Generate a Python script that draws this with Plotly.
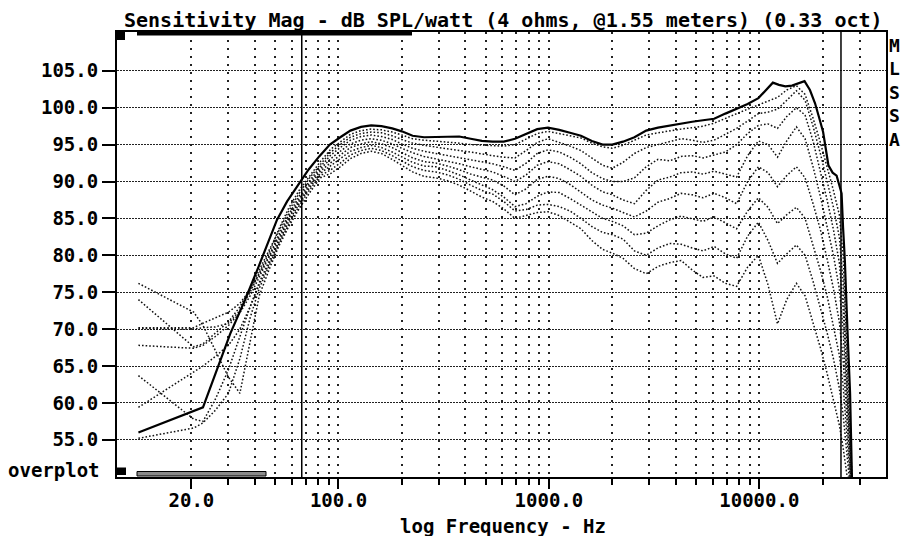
import math
import plotly.graph_objects as go

# ---------------- data ----------------
TITLE = "Sensitivity Mag - dB SPL/watt (4 ohms, @1.55 meters) (0.33 oct)"
X_TITLE = "log Frequency - Hz"
SIDE_LABEL = ["M", "L", "S", "S", "A"]
CORNER_LABEL = "overplot"

# on-axis response (solid)
FREQ_ON = [11.2, 22.7, 30.6, 36, 41.5, 46, 51, 57, 64, 72, 81, 91, 102, 114, 128, 143,
           160, 180, 200, 225, 255, 290, 330, 375, 425, 480, 540, 610, 690, 780, 880,
           990, 1120, 1260, 1420, 1600, 1800, 2000, 2250, 2550, 2900, 3300, 3750, 4250,
           4800, 5400, 6100, 6900, 7800, 8800, 9900, 10700, 11600, 12400, 13300, 14300,
           15300, 16400, 17400, 18400, 19400, 20100, 21300, 22300, 23300, 24600, 25000,
           25500, 26200, 27000, 27600]
SPL_ON = [56.0, 59.4, 69.4, 74.0, 78.3, 81.5, 84.8, 87.3, 89.5, 91.6, 93.4, 95.0, 96.0,
          96.9, 97.4, 97.6, 97.5, 97.2, 96.8, 96.2, 96.0, 96.0, 96.0, 96.1, 95.8, 95.5,
          95.4, 95.4, 95.8, 96.5, 97.1, 97.3, 97.0, 96.6, 96.2, 95.5, 95.0, 95.0, 95.4,
          96.0, 96.9, 97.3, 97.6, 97.9, 98.1, 98.3, 98.5, 99.2, 99.9, 100.5, 101.3, 102.4,
          103.4, 103.1, 102.9, 103.0, 103.3, 103.6, 102.4, 100.6, 98.3, 96.7, 92.2, 91.2,
          90.8, 88.4, 83.8, 79.3, 70.3, 61.3, 49.0]

# off-axis responses (dotted)
FREQ_OFF = [11.2, 20.5, 22.7, 26, 30, 34, 38, 42, 47, 52, 58, 65, 73, 82, 92, 102, 114,
            128, 143, 160, 180, 200, 225, 255, 290, 330, 375, 425, 480, 540, 610, 690,
            780, 880, 990, 1120, 1260, 1420, 1600, 1800, 2000, 2250, 2550, 2900, 3300,
            3750, 4250, 4800, 5400, 6100, 6900, 7800, 8800, 9900, 11000, 12200, 13500,
            15000, 16500, 18000, 19500, 21000, 22500, 24000, 25000, 26000, 27000, 28000]

SPL_OFF_1 = [70.1, 70.0, 70.2, 70.3, 70.8, 72.5, 75.0, 77.6, 80.5, 83.5, 86.4, 88.8, 90.8, 92.7,
             94.4, 95.4, 96.4, 96.9, 97.1, 97.0, 96.7, 96.3, 95.8, 95.6, 95.5, 95.4, 95.2, 95.0,
             94.9, 94.9, 94.8, 95.0, 95.8, 96.5, 96.8, 96.5, 96.2, 95.9, 95.2, 94.7, 94.5, 94.9,
             95.6, 96.3, 96.6, 96.9, 97.1, 97.3, 97.5, 97.9, 98.5, 99.2, 99.8, 100.4, 100.9,
             101.4, 102.4, 103.0,
             101.8, 98.6, 95.3, 92.0, 88.8, 85.5, 80.0, 68.0, 56.0, 45.0]
SPL_OFF_2 = [74.0, 67.6, 68.0, 69.5, 71.0, 73.0, 75.5, 78.0, 80.8, 83.4, 86.0, 88.4, 90.5, 92.3,
             94.0, 95.0, 96.0, 96.5, 96.7, 96.6, 96.2, 95.7, 95.2, 94.9, 94.7, 94.5, 94.2, 94.0,
             93.7, 93.5, 93.3, 93.2, 94.2, 95.3, 95.8, 95.3, 94.8, 94.2, 93.2, 92.2, 91.8, 92.6,
             93.8, 94.6, 95.0, 95.4, 95.8, 95.6, 95.3, 95.6, 96.4, 97.2, 98.2, 99.2, 99.4,
             99.8, 101.0, 102.3,
             101.0, 97.5, 93.8, 90.0, 86.5, 82.5, 76.5, 65.0, 54.0, 44.0]
SPL_OFF_3 = [70.2, 70.2, 70.8, 71.5, 72.3, 73.5, 75.3, 77.4, 80.0, 82.8, 85.5, 88.0, 90.1, 92.0,
             93.6, 94.6, 95.6, 96.1, 96.3, 96.1, 95.7, 95.1, 94.5, 94.1, 93.8, 93.6, 93.3, 93.0,
             92.7, 92.4, 92.0, 91.5, 92.5, 93.8, 94.3, 94.0, 93.3, 92.4, 91.2, 90.4, 90.0, 90.0,
             90.5, 92.0, 93.0, 92.8, 93.4, 93.5, 93.2, 93.6, 94.0, 95.0, 96.5, 97.6, 97.8,
             97.2, 98.8, 100.0,
             99.0, 95.5, 91.5, 87.5, 83.5, 79.0, 73.0, 63.0, 52.5, 44.0]
SPL_OFF_4 = [67.8, 67.4, 67.8, 69.0, 70.5, 72.2, 74.5, 77.0, 79.8, 82.5, 85.2, 87.6, 89.8, 91.7,
             93.1, 94.1, 95.1, 95.6, 95.8, 95.6, 95.1, 94.5, 93.9, 93.4, 93.1, 92.8, 92.4, 92.0,
             91.6, 91.3, 90.7, 90.0, 90.9, 92.2, 92.7, 92.4, 91.6, 90.7, 89.5, 88.6, 88.2, 87.5,
             87.0, 88.8, 90.2, 90.6, 91.2, 91.3, 91.0, 91.4, 91.0, 90.6, 93.5, 95.5, 95.0,
             93.3, 95.5, 97.4,
             95.8, 92.0, 88.0, 84.0, 80.0, 75.5, 70.0, 61.0, 51.5, 44.0]
SPL_OFF_5 = [59.4, 64.2, 65.0, 66.3, 67.8, 70.0, 73.0, 76.3, 79.3, 82.2, 85.0, 87.3, 89.5, 91.4,
             92.6, 93.6, 94.6, 95.1, 95.4, 95.1, 94.6, 93.9, 93.2, 92.7, 92.5, 92.1, 91.6, 91.0,
             90.6, 90.2, 89.4, 88.2, 89.0, 90.3, 90.7, 90.4, 89.6, 88.5, 87.5, 86.8, 86.4, 85.8,
             85.2, 86.0, 87.2, 87.7, 88.4, 88.2, 87.8, 88.4, 87.8, 87.0, 90.0, 92.0, 91.2,
             89.3, 90.8, 92.0,
             90.5, 87.0, 83.5, 79.5, 75.5, 71.0, 66.0, 58.5, 50.0, 44.0]
SPL_OFF_6 = [63.7, 57.8, 57.5, 60.5, 64.5, 69.0, 73.0, 76.0, 79.0, 81.8, 84.6, 87.0, 89.2, 91.1,
             92.1, 93.1, 94.1, 94.6, 94.9, 94.6, 94.0, 93.3, 92.6, 92.1, 92.0, 91.5, 90.9, 90.2,
             89.5, 88.9, 87.9, 86.6, 87.0, 88.0, 88.6, 88.5, 87.7, 86.8, 85.8, 85.0, 84.6, 84.0,
             82.8, 83.0, 84.0, 84.8, 85.3, 84.9, 84.6, 85.2, 84.4, 83.6, 86.0, 87.8, 86.5,
             84.3, 85.5, 86.5,
             85.0, 81.5, 78.0, 74.5, 70.5, 66.5, 62.5, 56.0, 49.0, 44.0]
SPL_OFF_7 = [55.2, 56.6, 57.3, 59.0, 61.3, 66.0, 71.5, 75.5, 78.7, 81.5, 84.2, 86.7, 88.9, 90.8,
             91.6, 92.5, 93.6, 94.2, 94.5, 94.2, 93.5, 92.8, 92.0, 91.5, 91.3, 90.9, 90.3, 89.5,
             88.8, 88.3, 87.3, 86.0, 86.2, 86.8, 86.9, 86.6, 86.0, 85.0, 83.9, 83.1, 82.8, 82.2,
             80.6, 80.0, 81.0, 81.6, 81.5, 81.0, 80.6, 81.2, 80.2, 79.6, 82.6, 84.5, 82.0,
             78.9, 80.2, 81.4,
             80.0, 76.5, 73.0, 69.5, 66.0, 62.0, 58.5, 53.5, 48.0, 44.0]
SPL_OFF_8 = [76.2, 72.3, 70.5, 67.0, 63.5, 61.3, 68.5, 74.5, 78.2, 81.2, 83.9, 86.3, 88.5, 90.5,
             91.1, 92.0, 93.1, 93.8, 94.1, 93.8, 93.0, 92.2, 91.3, 90.7, 90.5, 90.1, 89.5, 88.7,
             87.9, 87.3, 86.3, 85.0, 85.4, 85.8, 85.9, 85.4, 84.5, 83.6, 82.0, 80.8, 80.3, 79.6,
             78.2, 77.5, 78.5, 79.0, 79.3, 78.0, 77.0, 77.2, 76.2, 75.8, 78.4, 80.0, 76.0,
             70.7, 74.0, 76.2,
             74.5, 71.0, 67.5, 64.0, 60.5, 57.0, 54.0, 50.5, 46.5, 44.0]
OFF_SERIES = [SPL_OFF_1, SPL_OFF_2, SPL_OFF_3, SPL_OFF_4,
              SPL_OFF_5, SPL_OFF_6, SPL_OFF_7, SPL_OFF_8]

CURSOR_FREQS = [66.9, 24440]

Y_TICKS = [55, 60, 65, 70, 75, 80, 85, 90, 95, 100, 105]
Y_TICK_TEXT = ["55.0", "60.0", "65.0", "70.0", "75.0", "80.0", "85.0", "90.0",
               "95.0", "100.0", "105.0"]
X_MAJOR = [20, 100, 1000, 10000]
X_MAJOR_TEXT = ["20.0", "100.0", "1000.0", "10000.0"]
X_MINOR = [30, 40, 50, 60, 70, 80, 90,
           200, 300, 400, 500, 600, 700, 800, 900,
           2000, 3000, 4000, 5000, 6000, 7000, 8000, 9000,
           20000, 30000]

X_MIN, X_MAX = 8.86, 40000.0
Y_MIN, Y_MAX = 49.96, 110.26

# ---------------- layout helpers ----------------
# The page body has an 8px margin on every side; keep the figure inside it
# (no scrollbars) and work in page pixels.
PAGE_W, PAGE_H = 909, 544
BODY = 8
W, H = PAGE_W - 2 * BODY, PAGE_H - 2 * BODY
PLOT_L, PLOT_R, PLOT_T, PLOT_B = 117, 886, 32, 477   # page pixels
ML, MT = PLOT_L - BODY, PLOT_T - BODY
MR, MB = (PAGE_W - BODY) - PLOT_R, (PAGE_H - BODY) - PLOT_B
PW, PH = PLOT_R - PLOT_L, PLOT_B - PLOT_T
FONT = "DejaVu Sans Mono"
INK = "#111111"


def px_x(x):
    return (x - PLOT_L) / PW


def px_y(y):
    return (PLOT_B - y) / PH


fig = go.Figure()

for series in OFF_SERIES:
    fig.add_trace(go.Scatter(
        x=FREQ_OFF, y=series, mode="lines",
        line=dict(color=INK, width=1.5, dash="1.6px,2px"),
        hoverinfo="skip", showlegend=False))

fig.add_trace(go.Scatter(
    x=FREQ_ON, y=SPL_ON, mode="lines",
    line=dict(color="black", width=2.2),
    hoverinfo="skip", showlegend=False))

for c in CURSOR_FREQS:
    fig.add_trace(go.Scatter(
        x=[c, c], y=[Y_MIN, Y_MAX], mode="lines",
        line=dict(color="black", width=1.5),
        hoverinfo="skip", showlegend=False))

grid_color = "#222222"
fig.update_xaxes(
    type="log",
    range=[math.log10(X_MIN), math.log10(X_MAX)],
    showline=True, linecolor="black", linewidth=2, mirror=True,
    ticks="outside", ticklen=10, tickwidth=2, tickcolor="black",
    tickmode="array", tickvals=X_MAJOR, ticktext=X_MAJOR_TEXT,
    tickfont=dict(family=FONT, size=19, color="black", weight="bold"),
    ticklabelstandoff=-5,
    showgrid=True, gridcolor=grid_color, gridwidth=1.5, griddash="1.6px,6.4px",
    minor=dict(tickmode="array", tickvals=X_MINOR, ticks="outside", ticklen=6,
               tickwidth=1.5, tickcolor="black", showgrid=True,
               gridcolor=grid_color, gridwidth=1.5, griddash="1.6px,6.4px"),
    zeroline=False,
)
fig.update_yaxes(
    range=[Y_MIN, Y_MAX],
    showline=True, linecolor="black", linewidth=2, mirror=True,
    ticks="outside", ticklen=13, tickwidth=2, tickcolor="black",
    tickmode="array", tickvals=Y_TICKS, ticktext=Y_TICK_TEXT,
    tickfont=dict(family=FONT, size=19, color="black", weight="bold"),
    showgrid=True, gridcolor=grid_color, gridwidth=1.2, griddash="1.5px,1.5px",
    zeroline=False,
)

shapes = [
    dict(type="rect", xref="paper", yref="paper",
         x0=px_x(117), x1=px_x(125), y0=px_y(40), y1=px_y(32),
         fillcolor="black", line=dict(width=0)),
    dict(type="rect", xref="paper", yref="paper",
         x0=px_x(137), x1=px_x(412), y0=px_y(35.5), y1=px_y(32),
         fillcolor="black", line=dict(width=0)),
    dict(type="rect", xref="paper", yref="paper",
         x0=px_x(117), x1=px_x(126), y0=px_y(475), y1=px_y(467.5),
         fillcolor="black", line=dict(width=0)),
    dict(type="rect", xref="paper", yref="paper",
         x0=px_x(137), x1=px_x(266), y0=px_y(476), y1=px_y(471.5),
         fillcolor="#8a8a8a", line=dict(color="black", width=1)),
]

annotations = [
    dict(text=TITLE, xref="paper", yref="paper", x=px_x(503), y=px_y(20.5),
         xanchor="center", yanchor="middle", showarrow=False,
         font=dict(family=FONT, size=20, color="black", weight="bold")),
    dict(text=X_TITLE, xref="paper", yref="paper", x=px_x(503), y=px_y(525.5),
         xanchor="center", yanchor="middle", showarrow=False,
         font=dict(family=FONT, size=19, color="black", weight="bold")),
    dict(text=CORNER_LABEL, xref="paper", yref="paper", x=px_x(102), y=px_y(470),
         xanchor="right", yanchor="middle", showarrow=False,
         font=dict(family=FONT, size=19, color="black", weight="bold")),
    dict(text="<br>".join(SIDE_LABEL), xref="paper", yref="paper",
         x=px_x(895), y=px_y(33), xanchor="center", yanchor="top", showarrow=False,
         font=dict(family=FONT, size=18, color="black", weight="bold")),
]

fig.update_layout(
    width=W, height=H,
    margin=dict(l=ML, r=MR, t=MT, b=MB, pad=0),
    paper_bgcolor="white", plot_bgcolor="white",
    shapes=shapes, annotations=annotations,
    showlegend=False,
)

fig.write_html("out.html")
